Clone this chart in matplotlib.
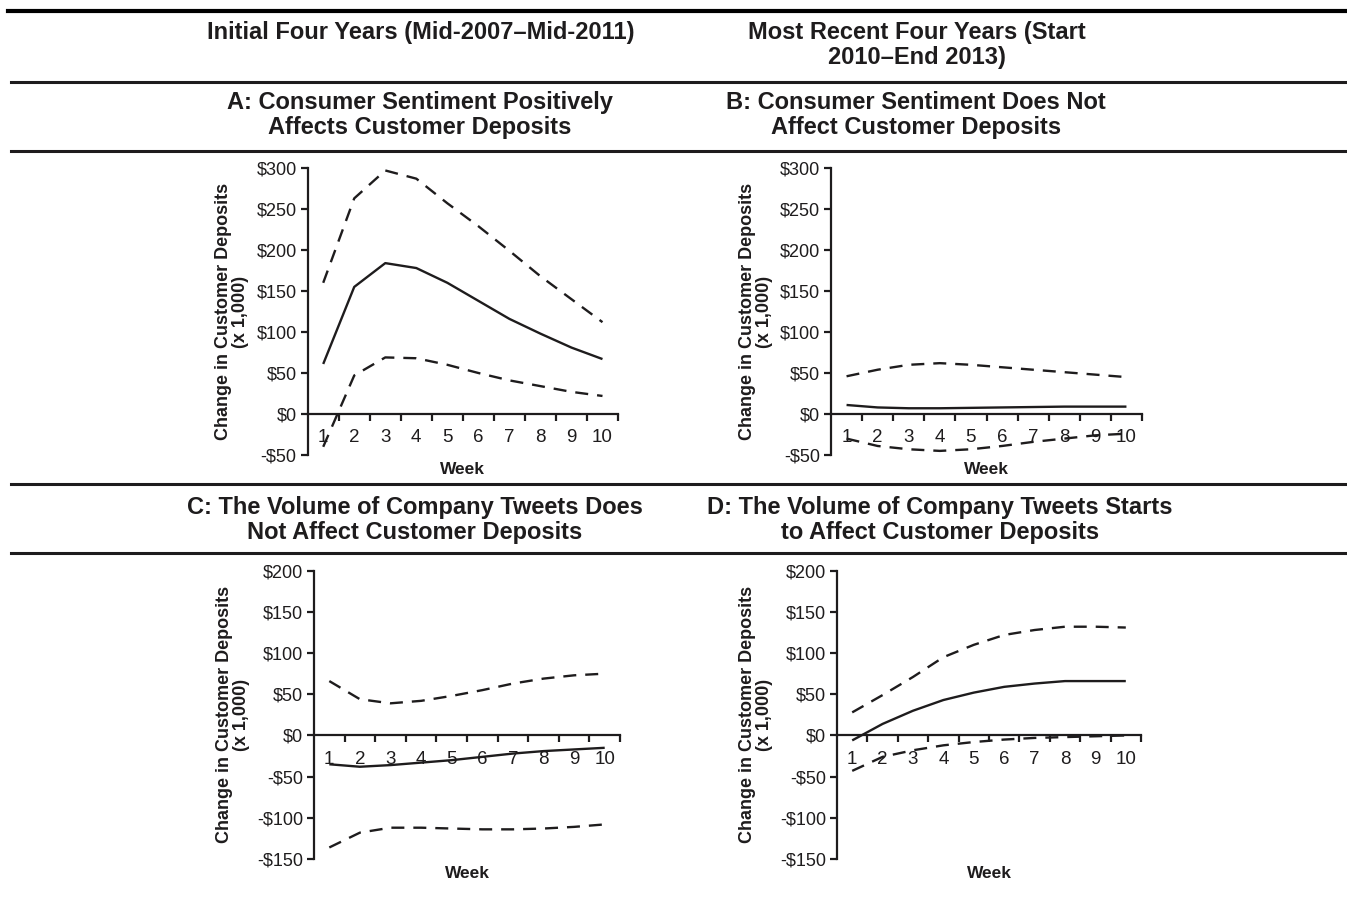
import numpy as np
import matplotlib.pyplot as plt
from matplotlib.lines import Line2D

plt.rcParams['font.family'] = ['Liberation Sans', 'DejaVu Sans']

INK = '#1e1c1d'

weeks = np.arange(1, 11)

# --- impulse responses (estimate, upper band, lower band), in $1,000 ---
a_mid = [61, 155, 184, 178, 160, 138, 116, 98, 81, 67]
a_hi = [160, 263, 297, 287, 257, 229, 199, 168, 140, 112]
a_lo = [-40, 47, 69, 68, 60, 50, 41, 34, 27, 22]

b_mid = [11, 8, 7, 7, 7.5, 8, 8.5, 9, 9, 9]
b_hi = [46, 54, 60, 62, 60, 57, 54, 51, 48, 45]
b_lo = [-30, -39, -43, -45, -43, -39, -34, -30, -26, -24]

c_mid = [-35, -38, -36, -33, -30, -26, -22, -19, -17, -15]
c_hi = [66, 44, 39, 42, 48, 55, 63, 69, 73, 75]
c_lo = [-136, -118, -112, -112, -113, -114, -114, -113, -111, -108]

d_mid = [-6, 14, 30, 43, 52, 59, 63, 66, 66, 66]
d_hi = [28, 49, 71, 95, 110, 122, 128, 132, 132, 131]
d_lo = [-43, -26, -18, -12, -8, -5, -3, -2, -1, 0]

col_titles = ['Initial Four Years (Mid-2007\u2013Mid-2011)',
              'Most Recent Four Years (Start\n2010\u2013End 2013)']
panel_titles = ['A: Consumer Sentiment Positively\nAffects Customer Deposits',
                'B: Consumer Sentiment Does Not\nAffect Customer Deposits',
                'C: The Volume of Company Tweets Does\nNot Affect Customer Deposits',
                'D: The Volume of Company Tweets Starts\nto Affect Customer Deposits']

W, H = 1347, 899
fig = plt.figure(figsize=(W / 100, H / 100), dpi=100)


def px_axes(x0, x1, ytop, ybot):
    return fig.add_axes([x0 / W, 1 - ybot / H, (x1 - x0) / W, (ybot - ytop) / H])


def money(v):
    return '-${:d}'.format(-v) if v < 0 else '${:d}'.format(v)


def draw_panel(ax, mid, hi, lo, ymin, ymax):
    ax.plot(weeks, mid, color=INK, lw=1.7, solid_capstyle='butt')
    ax.plot(weeks, hi, color=INK, lw=1.7, dashes=(5.5, 3.8))
    ax.plot(weeks, lo, color=INK, lw=1.7, dashes=(5.5, 3.8))
    ax.set_xlim(0.5, 10.5)
    ax.set_ylim(ymin, ymax)
    yt = np.arange(ymin, ymax + 1, 50)
    ax.set_yticks(yt)
    ax.set_yticklabels([money(int(v)) for v in yt])
    ax.spines['top'].set_visible(False)
    ax.spines['right'].set_visible(False)
    ax.spines['bottom'].set_position(('data', 0))
    for s in ('left', 'bottom'):
        ax.spines[s].set_linewidth(1.6)
        ax.spines[s].set_color(INK)
    # tick marks between weeks, labels on the weeks
    ax.set_xticks(np.arange(1.5, 11, 1.0))
    ax.set_xticklabels([])
    ax.set_xticks(weeks, minor=True)
    ax.set_xticklabels([str(w) for w in weeks], minor=True)
    ax.tick_params(axis='x', which='major', direction='out', length=5, width=1.6, color=INK)
    ax.tick_params(axis='x', which='minor', length=0, pad=11, labelsize=13.5, labelcolor=INK)
    ax.tick_params(axis='y', direction='out', length=5, width=1.6, color=INK,
                   labelsize=13, labelcolor=INK, pad=3)
    ax.set_ylabel('Change in Customer Deposits\n(x 1,000)', fontsize=13,
                  fontweight='bold', color=INK, labelpad=5, linespacing=1.0)
    ax.text(0.5, -0.025, 'Week', transform=ax.transAxes, ha='center', va='top',
            fontsize=12.5, fontweight='bold', color=INK)
    ax.patch.set_alpha(0)


axA = px_axes(307.7, 618, 168, 455)
axB = px_axes(831, 1142, 168, 455)
axC = px_axes(314, 620, 570.7, 859)
axD = px_axes(837, 1141, 570.7, 859)

draw_panel(axA, a_mid, a_hi, a_lo, -50, 300)
draw_panel(axB, b_mid, b_hi, b_lo, -50, 300)
draw_panel(axC, c_mid, c_hi, c_lo, -150, 200)
draw_panel(axD, d_mid, d_hi, d_lo, -150, 200)

# horizontal rules of the table layout
fig.add_artist(Line2D([8 / W, 1], [1 - 11 / H] * 2, color='black', lw=3.0))
for yy in (82, 151, 484, 553):
    fig.add_artist(Line2D([11 / W, 1345 / W], [1 - yy / H] * 2, color=INK, lw=2.2))

hdr = dict(fontsize=17, fontweight='bold', color=INK, ha='center', va='center',
           linespacing=1.12)
fig.text(421 / W, 1 - 32 / H, col_titles[0], **hdr)
fig.text(917 / W, 1 - 45 / H, col_titles[1], **hdr)
fig.text(420 / W, 1 - 115 / H, panel_titles[0], **hdr)
fig.text(916 / W, 1 - 115 / H, panel_titles[1], **hdr)
fig.text(415 / W, 1 - 520 / H, panel_titles[2], **hdr)
fig.text(940 / W, 1 - 520 / H, panel_titles[3], **hdr)

fig.savefig('out.png', dpi=100)
